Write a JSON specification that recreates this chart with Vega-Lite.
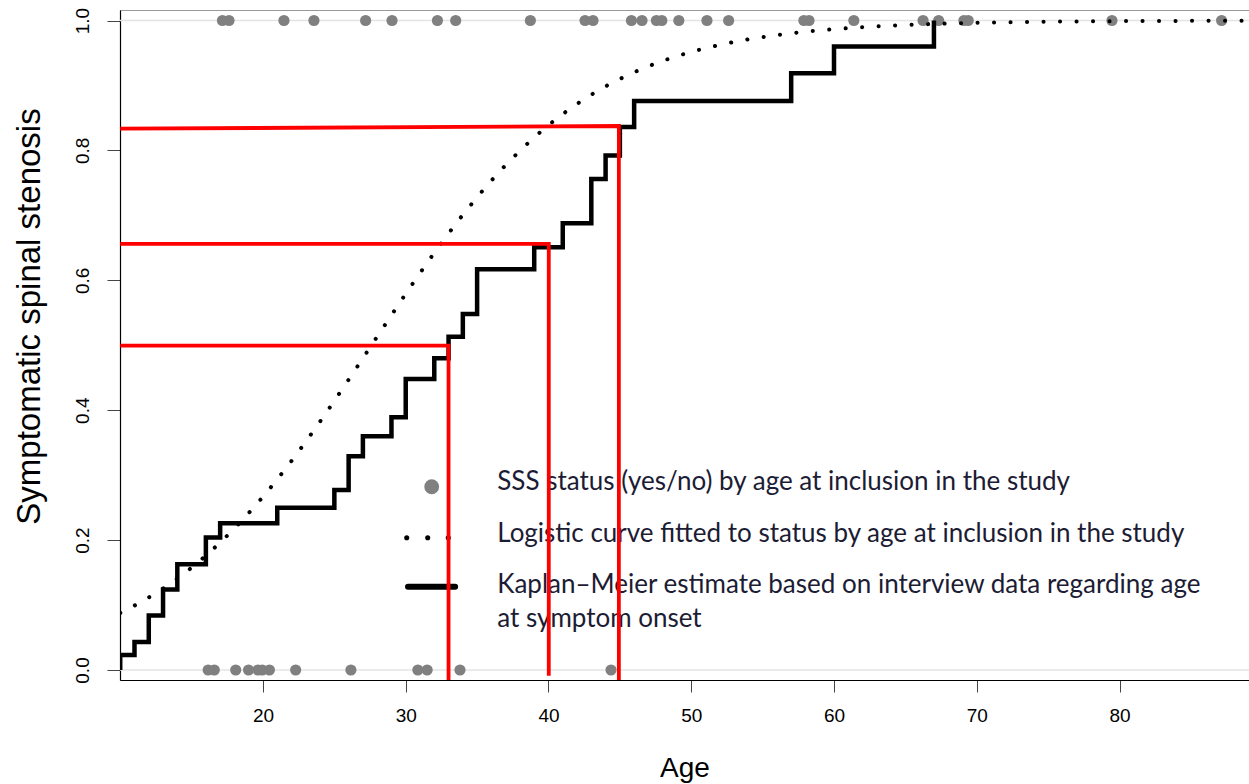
{
  "$schema": "https://vega.github.io/schema/vega-lite/v6.json",
  "autosize": "none",
  "width": 1129,
  "height": 670,
  "padding": {"left": 120, "top": 10, "right": 0, "bottom": 104},
  "background": "white",
  "datasets": {
    "grid": [{"p": 0}, {"p": 1}],
    "pts": [
      {"age": 17.16, "p": 1}, {"age": 17.62, "p": 1}, {"age": 21.47, "p": 1}, {"age": 23.57, "p": 1},
      {"age": 27.19, "p": 1}, {"age": 29.04, "p": 1}, {"age": 32.22, "p": 1}, {"age": 33.5, "p": 1},
      {"age": 38.73, "p": 1}, {"age": 42.56, "p": 1}, {"age": 43.12, "p": 1}, {"age": 45.81, "p": 1},
      {"age": 46.55, "p": 1}, {"age": 47.56, "p": 1}, {"age": 47.94, "p": 1}, {"age": 49.13, "p": 1},
      {"age": 51.1, "p": 1}, {"age": 52.62, "p": 1}, {"age": 57.89, "p": 1}, {"age": 58.25, "p": 1},
      {"age": 61.39, "p": 1}, {"age": 66.24, "p": 1}, {"age": 67.33, "p": 1}, {"age": 69.1, "p": 1},
      {"age": 69.4, "p": 1}, {"age": 79.47, "p": 1}, {"age": 87.15, "p": 1},
      {"age": 16.16, "p": 0}, {"age": 16.59, "p": 0}, {"age": 18.09, "p": 0}, {"age": 18.99, "p": 0},
      {"age": 19.65, "p": 0}, {"age": 19.95, "p": 0}, {"age": 20.45, "p": 0}, {"age": 22.29, "p": 0},
      {"age": 26.16, "p": 0}, {"age": 30.85, "p": 0}, {"age": 31.5, "p": 0}, {"age": 33.8, "p": 0},
      {"age": 44.38, "p": 0}
    ],
    "logit": [
      {"age": 10, "p": 0.0878}, {"age": 12, "p": 0.1116}, {"age": 14, "p": 0.1408}, {"age": 16, "p": 0.1761},
      {"age": 18, "p": 0.2181}, {"age": 20, "p": 0.2668}, {"age": 22, "p": 0.322}, {"age": 24, "p": 0.3826},
      {"age": 26, "p": 0.447}, {"age": 28, "p": 0.5133}, {"age": 30, "p": 0.5791}, {"age": 32, "p": 0.6422},
      {"age": 34, "p": 0.7008}, {"age": 36, "p": 0.7535}, {"age": 38, "p": 0.7994}, {"age": 40, "p": 0.8388},
      {"age": 42, "p": 0.8716}, {"age": 44, "p": 0.8986}, {"age": 46, "p": 0.9203}, {"age": 48, "p": 0.9378},
      {"age": 50, "p": 0.9516}, {"age": 52, "p": 0.9625}, {"age": 54, "p": 0.971}, {"age": 56, "p": 0.9776},
      {"age": 58, "p": 0.9828}, {"age": 60, "p": 0.9867}, {"age": 62, "p": 0.9898}, {"age": 64, "p": 0.9922},
      {"age": 66, "p": 0.994}, {"age": 68, "p": 0.9954}, {"age": 70, "p": 0.9965}, {"age": 75, "p": 0.9982},
      {"age": 80, "p": 0.9991}, {"age": 85, "p": 0.9995}, {"age": 89.07, "p": 0.9997}
    ],
    "km": [
      {"age": 10, "p": 0}, {"age": 10, "p": 0.023}, {"age": 11, "p": 0.043}, {"age": 12, "p": 0.084},
      {"age": 13, "p": 0.124}, {"age": 14, "p": 0.163}, {"age": 16, "p": 0.204}, {"age": 17, "p": 0.226},
      {"age": 21, "p": 0.25}, {"age": 25, "p": 0.277}, {"age": 26, "p": 0.329}, {"age": 27, "p": 0.36},
      {"age": 29, "p": 0.389}, {"age": 30, "p": 0.448}, {"age": 32, "p": 0.48}, {"age": 33, "p": 0.513},
      {"age": 34, "p": 0.548}, {"age": 35, "p": 0.617}, {"age": 39, "p": 0.651}, {"age": 41, "p": 0.688},
      {"age": 43, "p": 0.756}, {"age": 44, "p": 0.792}, {"age": 45, "p": 0.836}, {"age": 46, "p": 0.876},
      {"age": 57, "p": 0.919}, {"age": 60, "p": 0.96}, {"age": 67, "p": 1.0}
    ],
    "red": [
      {"line": "a", "ord": 1, "age": 10, "p": 0.4993}, {"line": "a", "ord": 2, "age": 33.0, "p": 0.4993}, {"line": "a", "ord": 3, "age": 33.0, "p": -0.0154},
      {"line": "b", "ord": 1, "age": 10, "p": 0.656}, {"line": "b", "ord": 2, "age": 40.02, "p": 0.656}, {"line": "b", "ord": 3, "age": 40.02, "p": -0.009},
      {"line": "c", "ord": 1, "age": 10, "p": 0.8334}, {"line": "c", "ord": 2, "age": 44.93, "p": 0.8376}, {"line": "c", "ord": 3, "age": 44.93, "p": -0.0154}
    ],
    "legDots": [{"age": 30.07, "p": 0.2037}, {"age": 31.54, "p": 0.2037}, {"age": 32.98, "p": 0.2037}],
    "legCircle": [{"age": 31.82, "p": 0.2822}],
    "legLine": [{"age": 30.16, "p": 0.128}, {"age": 33.46, "p": 0.128}],
    "legText": [
      {"age": 36.41, "p": 0.2771, "label": "SSS status (yes/no) by age at inclusion in the study"},
      {"age": 36.41, "p": 0.1975, "label": "Logistic curve fitted to status by age at inclusion in the study"},
      {"age": 36.41, "p": 0.1181, "label": "Kaplan–Meier estimate based on interview data regarding age"},
      {"age": 36.41, "p": 0.0667, "label": "at symptom onset"}
    ]
  },
  "layer": [
    {
      "data": {"name": "km"},
      "mark": {"type": "line", "color": "black", "strokeWidth": 4.5, "interpolate": "step-after", "clip": true, "opacity": 0},
      "encoding": {
        "x": {"field": "age", "type": "quantitative", "scale": {"domain": [9.985, 89.07], "nice": false, "zero": false}, "axis": {"title": "Age", "values": [20, 30, 40, 50, 60, 70, 80]}},
        "y": {"field": "p", "type": "quantitative", "scale": {"domain": [-0.0154, 1.0162], "nice": false, "zero": false}, "axis": {"title": "Symptomatic spinal stenosis", "values": [0, 0.2, 0.4, 0.6, 0.8, 1.0], "format": ".1f", "titleY": 306}}
      }
    },
    {
      "data": {"name": "grid"},
      "mark": {"type": "rule", "color": "#e4e4e4", "strokeWidth": 1.5},
      "encoding": {
        "y": {"field": "p", "type": "quantitative"}
      }
    },
    {
      "data": {"name": "pts"},
      "mark": {"type": "circle", "color": "#808080", "opacity": 1, "size": 125, "clip": true},
      "encoding": {
        "x": {"field": "age", "type": "quantitative"},
        "y": {"field": "p", "type": "quantitative"}
      }
    },
    {
      "data": {"name": "logit"},
      "mark": {"type": "line", "color": "black", "strokeWidth": 4, "strokeCap": "round", "strokeDash": [0.1, 16.4], "interpolate": "monotone", "clip": true},
      "encoding": {
        "x": {"field": "age", "type": "quantitative"},
        "y": {"field": "p", "type": "quantitative"}
      }
    },
    {
      "data": {"name": "km"},
      "mark": {"type": "line", "color": "black", "strokeWidth": 4.5, "strokeJoin": "miter", "strokeCap": "butt", "interpolate": "step-after", "clip": true},
      "encoding": {
        "x": {"field": "age", "type": "quantitative"},
        "y": {"field": "p", "type": "quantitative"}
      }
    },
    {
      "data": {"name": "legCircle"},
      "mark": {"type": "circle", "color": "#808080", "opacity": 1, "size": 220},
      "encoding": {
        "x": {"field": "age", "type": "quantitative"},
        "y": {"field": "p", "type": "quantitative"}
      }
    },
    {
      "data": {"name": "legDots"},
      "mark": {"type": "circle", "color": "black", "opacity": 1, "size": 26},
      "encoding": {
        "x": {"field": "age", "type": "quantitative"},
        "y": {"field": "p", "type": "quantitative"}
      }
    },
    {
      "data": {"name": "legLine"},
      "mark": {"type": "line", "color": "black", "strokeWidth": 6, "strokeCap": "round"},
      "encoding": {
        "x": {"field": "age", "type": "quantitative"},
        "y": {"field": "p", "type": "quantitative"}
      }
    },
    {
      "data": {"name": "legText"},
      "mark": {"type": "text", "align": "left", "baseline": "alphabetic", "font": "Lato", "fontSize": 26, "color": "#1c1c34"},
      "encoding": {
        "x": {"field": "age", "type": "quantitative"},
        "y": {"field": "p", "type": "quantitative"},
        "text": {"field": "label"}
      }
    },
    {
      "data": {"name": "red"},
      "mark": {"type": "line", "color": "#ff0000", "strokeWidth": 3.8, "strokeJoin": "miter", "clip": true},
      "encoding": {
        "x": {"field": "age", "type": "quantitative"},
        "y": {"field": "p", "type": "quantitative"},
        "detail": {"field": "line"},
        "order": {"field": "ord"}
      }
    }
  ],
  "config": {
    "view": {"stroke": "#999999", "strokeWidth": 1},
    "axis": {
      "grid": false,
      "domainColor": "black",
      "domainWidth": 1.2,
      "tickColor": "#444444",
      "labelFont": "Liberation Sans",
      "titleFont": "Liberation Sans",
      "labelColor": "black",
      "titleColor": "black",
      "titleFontWeight": "normal"
    },
    "axisX": {"tickSize": 12, "labelFontSize": 19, "labelPadding": 14, "titleFontSize": 28, "titlePadding": 29},
    "axisY": {"tickSize": 13, "labelAngle": -90, "labelAlign": "center", "labelBaseline": "bottom", "labelFontSize": 19, "labelPadding": 15, "titleFontSize": 33, "titlePadding": 27}
  }
}
